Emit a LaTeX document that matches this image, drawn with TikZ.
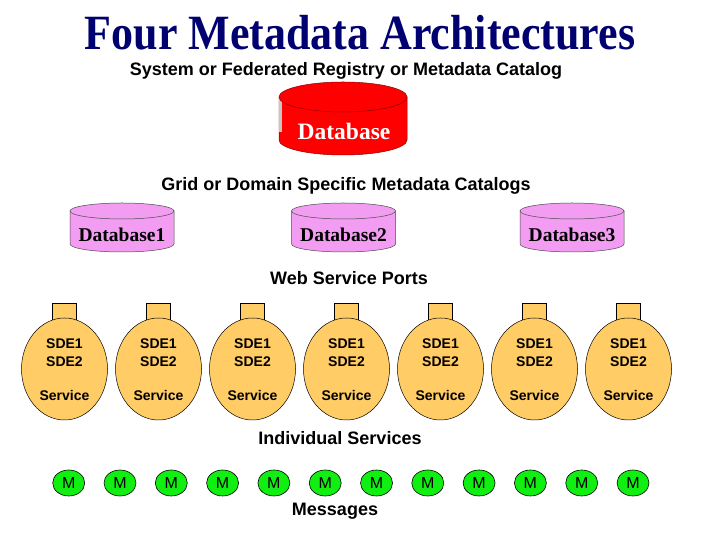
\documentclass[tikz,border=0pt]{standalone}
\usepackage{fontspec}
\setmainfont{Liberation Serif}
\setsansfont{Liberation Sans}
\usepackage{tikz}
\usetikzlibrary{positioning,shapes.geometric}
\definecolor{TitleNavy}{HTML}{000070}
\definecolor{DbRed}{HTML}{FF0000}
\definecolor{DbPink}{HTML}{F29CF2}
\definecolor{SvcOrange}{HTML}{FFCC66}
\definecolor{MsgGreen}{HTML}{11EE11}

\begin{document}
\begin{tikzpicture}[
  x=1pt, y=1pt,
  % --- text styles ---
  ttl/.style={text=TitleNavy, font=\fontsize{44}{48}\selectfont\bfseries, inner sep=0pt, anchor=base},
  head/.style={font=\sffamily\bfseries\fontsize{18}{20}\selectfont, inner sep=0pt, anchor=base},
  dbtxt/.style={font=\fontsize{19.5}{22}\selectfont\bfseries, inner sep=0pt, anchor=base},
  sdetxt/.style={font=\sffamily\bfseries\fontsize{14}{16}\selectfont, inner sep=0pt, anchor=base},
  % --- shapes ---
  port/.style={draw=black, fill=SvcOrange, line width=0.5pt, minimum width=24pt, minimum height=22pt, inner sep=0pt},
  svc/.style={ellipse, draw=black, fill=SvcOrange, line width=0.5pt, minimum width=86pt, minimum height=102pt, inner sep=0pt},
  msg/.style={ellipse, draw=black, fill=MsgGreen, line width=0.6pt, minimum width=32pt, minimum height=26pt, inner sep=0pt,
    font=\sffamily\fontsize{16}{18}\selectfont},
]
\fill[white] (0,0) rectangle (720,540);
\useasboundingbox (0,0) rectangle (720,540);

% =================== TITLE ===================
\node[ttl] (title) at (360,490) {\scalebox{1}[1.12]{Four Metadata Architectures}};
\node[head] (sysH) at (346,464) {System or Federated Registry or Metadata Catalog};

% =================== CENTRAL DATABASE ===================
\path[fill=DbRed, draw=red!55!black, line width=0.5pt]
  (279,443) -- (279,400) arc[start angle=180, end angle=360, x radius=64, y radius=15] -- (407,443) -- cycle;
\fill[gray!45] (278.6,408) rectangle (281.5,443);
\draw[fill=DbRed, draw=red!55!black, line width=0.5pt] (343,443) ellipse[x radius=64, y radius=15];
\node[text=white, font=\fontsize{23.5}{26}\selectfont\bfseries, inner sep=0pt, anchor=base] (db) at (344,400) {Database};

% =================== DOMAIN CATALOGS ===================
\node[head] (gridH) at (346,349) {Grid or Domain Specific Metadata Catalogs};
\foreach \cx/\k in {122/1, 343.5/2, 572/3} {
  \path[fill=DbPink, draw=black!70, line width=0.5pt]
    (\cx-52,329) -- (\cx-52,296) arc[start angle=180, end angle=360, x radius=52, y radius=8] -- (\cx+52,329) -- cycle;
  \draw[fill=DbPink, draw=black!70, line width=0.5pt] (\cx,329) ellipse[x radius=52, y radius=8];
  \node[dbtxt] (db\k) at (\cx,298) {Database\k};
}

% =================== WEB SERVICE PORTS ===================
\node[head] (portH) at (349,255) {Web Service Ports};
\foreach \i in {0,...,6} {
  \pgfmathsetmacro\cx{64.5+94*\i}
  \node[port] (port\i) at (\cx,226) {};
  \node[svc] (svc\i) at (\cx,171) {};
  \node[sdetxt] (sdeA\i) at (\cx,191) {SDE1};
  \node[sdetxt] (sdeB\i) at (\cx,173) {SDE2};
  \node[sdetxt] (svcT\i) at (\cx,139) {Service};
}

% =================== MESSAGES ===================
\node[head] (indH) at (340,95) {Individual Services};
\foreach \i in {0,...,11} {
  \pgfmathsetmacro\mx{68.7+51.3*\i}
  \node[msg] (m\i) at (\mx,57) {M};
}
\node[head] (msgH) at (335,24) {Messages};

\end{tikzpicture}
\end{document}
